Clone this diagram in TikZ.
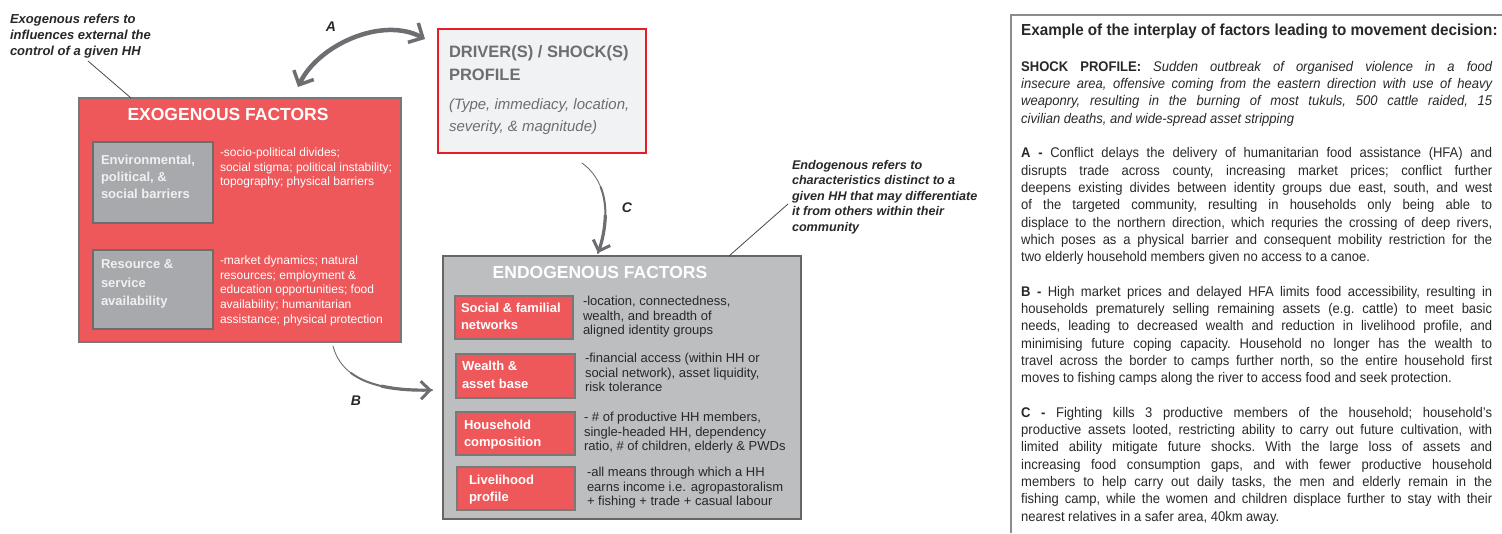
\documentclass[tikz,border=0pt]{standalone}
\usepackage{fontspec}
\setmainfont{Liberation Sans}
\newfontfamily\narrow[FakeStretch=0.93]{Liberation Sans}
\newfontfamily\narrowtitle[FakeStretch=0.95]{Liberation Sans}
\usetikzlibrary{arrows.meta}
\definecolor{redf}{RGB}{238,88,90}
\definecolor{greyin}{RGB}{167,169,172}
\definecolor{greyendo}{RGB}{188,190,192}
\definecolor{drvfill}{RGB}{241,242,244}
\definecolor{drvred}{RGB}{232,28,36}
\definecolor{drvtxt}{RGB}{109,110,113}
\definecolor{arrowgrey}{RGB}{109,110,113}
\definecolor{darktxt}{RGB}{40,40,40}
\definecolor{boxline}{RGB}{120,120,120}
\definecolor{lighttxt}{RGB}{240,240,241}
\definecolor{panelline}{RGB}{138,140,142}
\begin{document}
\begin{tikzpicture}[x=1pt,y=-1pt,
  boxn/.style={anchor=north west,inner sep=0pt,outer sep=0pt,draw=boxline,line width=1.2pt},
  txt/.style={anchor=north west,inner sep=0pt,outer sep=0pt,align=left},
  note/.style={txt,text=darktxt,font=\bfseries\itshape\fontsize{13}{16}\selectfont},
  subhead/.style={txt,text=white,font=\bfseries\fontsize{13}{17}\selectfont},
  exotxt/.style={txt,text=white,font=\fontsize{12}{14.6}\selectfont},
  endotxt/.style={txt,text=darktxt,font=\fontsize{13}{14.4}\selectfont},
  bigarrow/.style={draw=arrowgrey,line width=4.5pt,line cap=round},
  tiparrow/.style={draw=arrowgrey,line cap=round},
  headtip/.style={-{Straight Barb[length=9pt,width=18pt,line width=3pt]}},
  lbl/.style={inner sep=0pt,text=darktxt,font=\bfseries\itshape\fontsize{14}{16}\selectfont},
  leader/.style={draw=darktxt!85,line width=0.8pt}
]
\useasboundingbox (0,0) rectangle (1502,533);

% ---------- Exogenous ----------
\node[note] (exonote) at (10,14) {Exogenous refers to\\influences external the\\control of a given HH};
\node[boxn,fill=redf,minimum width=322pt,minimum height=244pt] (exo) at (79,98) {};
\node[inner sep=0pt,text=white,font=\bfseries\fontsize{17.5}{20}\selectfont] (exotitle) at (228,114) {EXOGENOUS FACTORS};
\node[boxn,fill=greyin,draw=boxline!90!black,minimum width=120pt,minimum height=81pt] (env) at (93,142) {};
\node[subhead,text=lighttxt] (envtxt) at (101,155) {Environmental,\\political, \&\\social barriers};
\node[exotxt] (envdesc) at (220,148) {-socio-political divides;\\social stigma; political instability;\\topography; physical barriers};
\node[boxn,fill=greyin,draw=boxline!90!black,minimum width=120pt,minimum height=79pt] (res) at (93,250) {};
\node[subhead,text=lighttxt,font=\bfseries\fontsize{13}{18.3}\selectfont] (restxt) at (101,260) {Resource \&\\service\\availability};
\node[exotxt] (resdesc) at (220,256) {-market dynamics; natural\\resources; employment \&\\education opportunities; food\\availability; humanitarian\\assistance; physical protection};
\coordinate (exonoteEnd) at (88,61);
\draw[leader] (exonoteEnd) -- (131,98);

% ---------- Driver ----------
\node[boxn,fill=drvfill,draw=drvred,line width=2.4pt,minimum width=208pt,minimum height=124pt] (drv) at (438,29) {};
\node[txt,text=drvtxt,font=\bfseries\fontsize{16.5}{23}\selectfont] (drvtitle) at (449,45.5) {DRIVER(S) / SHOCK(S)\\PROFILE};
\node[txt,text=drvtxt,font=\itshape\fontsize{15}{22}\selectfont] (drvsub) at (449,99) {(Type, immediacy, location,\\severity, \& magnitude)};

% ---------- Endogenous ----------
\node[note,font=\bfseries\itshape\fontsize{12.6}{15.5}\selectfont] (endonote) at (792,160) {Endogenous refers to\\characteristics distinct to a\\given HH that may differentiate\\it from others within their\\community};
\node[boxn,fill=greyendo,draw=boxline!85!black,minimum width=358pt,minimum height=263pt] (endo) at (443,256) {};
\node[inner sep=0pt,text=white,font=\bfseries\fontsize{17.5}{20}\selectfont] (endotitle) at (600,272) {ENDOGENOUS FACTORS};
\coordinate (endonoteEnd) at (788,204);
\draw[leader] (729,256) -- (endonoteEnd);

\node[boxn,fill=redf,minimum width=118pt,minimum height=43pt] (s1) at (455,296) {};
\node[subhead] (s1t) at (461,303) {Social \& familial\\networks};
\node[endotxt] (s1d) at (583,296.5) {-location, connectedness,\\wealth, and breadth of\\aligned identity groups};

\node[boxn,fill=redf,minimum width=119pt,minimum height=44pt] (s2) at (456,354) {};
\node[subhead,font=\bfseries\fontsize{13}{18}\selectfont] (s2t) at (462,361) {Wealth \&\\asset base};
\node[endotxt] (s2d) at (585,353.5) {-financial access (within HH or\\social network), asset liquidity,\\risk tolerance};

\node[boxn,fill=redf,minimum width=119pt,minimum height=43pt] (s3) at (456,412) {};
\node[subhead] (s3t) at (464,420) {Household\\composition};
\node[endotxt] (s3d) at (584,412.5) {- \# of productive HH members,\\single-headed HH, dependency\\ratio, \# of children, elderly \& PWDs};

\node[boxn,fill=redf,minimum width=118pt,minimum height=43pt] (s4) at (457,467) {};
\node[subhead] (s4t) at (469,475.5) {Livelihood\\profile};
\node[endotxt] (s4d) at (587,467.5) {-all means through which a HH\\earns income i.e. agropastoralism\\+ fishing + trade + casual labour};

% ---------- Arrows ----------
\coordinate (aL) at (298,87);
\coordinate (aR) at (425,39);
\draw[bigarrow,{Straight Barb[length=11pt,width=22pt,line width=3.5pt]}-{Straight Barb[length=11pt,width=22pt,line width=3.5pt]}]
  (aL) .. controls (318,45) and (382,16) .. (aR);
\node[lbl] (lblA) at (331,27) {A};

% C: tapered (sub-curves of one cubic)
\coordinate (cS) at (582,163);
\coordinate (cM1) at (600.6,186.9);
\coordinate (cM2) at (605.3,215.6);
\coordinate (cE) at (598,253);
\draw[tiparrow,line width=0.9pt] (cS) .. controls (612,185) and (608,225) .. (cE);
\draw[tiparrow,line width=2pt] (cM1) .. controls (609.1,207.9) and (605,233.4) .. (cE);
\draw[tiparrow,line width=3.2pt,headtip] (cM2) .. controls (605.0,228.7) and (602,241.8) .. (cE);
\node[lbl] (lblC) at (627,208) {C};

% B: tapered
\coordinate (bS) at (333,346);
\coordinate (bM1) at (350.9,372.9);
\coordinate (bM2) at (381.9,386.2);
\coordinate (bE) at (432,390);
\draw[tiparrow,line width=0.9pt] (bS) .. controls (343,385) and (390,391) .. (bE);
\draw[tiparrow,line width=2pt] (bM1) .. controls (370.8,388.0) and (402.6,390.7) .. (bE);
\draw[tiparrow,line width=3.2pt,headtip] (bM2) .. controls (397.6,389.7) and (415.2,390.4) .. (bE);
\node[lbl] (lblB) at (356,401) {B};

% ---------- Right panel ----------
\coordinate (pTL) at (1011,15);
\draw[draw=panelline,line width=1.5pt] (1502,15) -- (pTL) -- (1011,533);
\node[anchor=west,inner sep=0pt,text=darktxt,font=\narrowtitle\bfseries\fontsize{16}{19}\selectfont] (ptitle) at (1021,31) {Example of the interplay of factors leading to movement decision:};
\node[anchor=north west,inner sep=0pt,text width=471pt,align=justify,text=darktxt,font=\narrow\fontsize{14}{17.3}\selectfont] (ptext) at (1021,61) {%
\setlength{\parindent}{0pt}\setlength{\parskip}{17.3pt}\tolerance=10000\hyphenpenalty=10000\emergencystretch=20pt\frenchspacing
\textbf{SHOCK PROFILE:} \textit{Sudden outbreak of organised violence in a food\linebreak
insecure area, offensive coming from the eastern direction with use of heavy\linebreak
weaponry, resulting in the burning of most tukuls, 500 cattle raided, 15\linebreak
civilian deaths, and wide-spread asset stripping}\par
\textbf{A -} Conflict delays the delivery of humanitarian food assistance (HFA) and\linebreak
disrupts trade across county, increasing market prices; conflict further\linebreak
deepens existing divides between identity groups due east, south, and west\linebreak
of the targeted community, resulting in households only being able to\linebreak
displace to the northern direction, which requries the crossing of deep rivers,\linebreak
which poses as a physical barrier and consequent mobility restriction for the\linebreak
two elderly household members given no access to a canoe.\par
\textbf{B -} High market prices and delayed HFA limits food accessibility, resulting in\linebreak
households prematurely selling remaining assets (e.g. cattle) to meet basic\linebreak
needs, leading to decreased wealth and reduction in livelihood profile, and\linebreak
minimising future coping capacity. Household no longer has the wealth to\linebreak
travel across the border to camps further north, so the entire household first\linebreak
moves to fishing camps along the river to access food and seek protection.\par
\textbf{C -} Fighting kills 3 productive members of the household; household’s\linebreak
productive assets looted, restricting ability to carry out future cultivation, with\linebreak
limited ability mitigate future shocks. With the large loss of assets and\linebreak
increasing food consumption gaps, and with fewer productive household\linebreak
members to help carry out daily tasks, the men and elderly remain in the\linebreak
fishing camp, while the women and children displace further to stay with their\linebreak
nearest relatives in a safer area, 40km away.\par};
\end{tikzpicture}
\end{document}
